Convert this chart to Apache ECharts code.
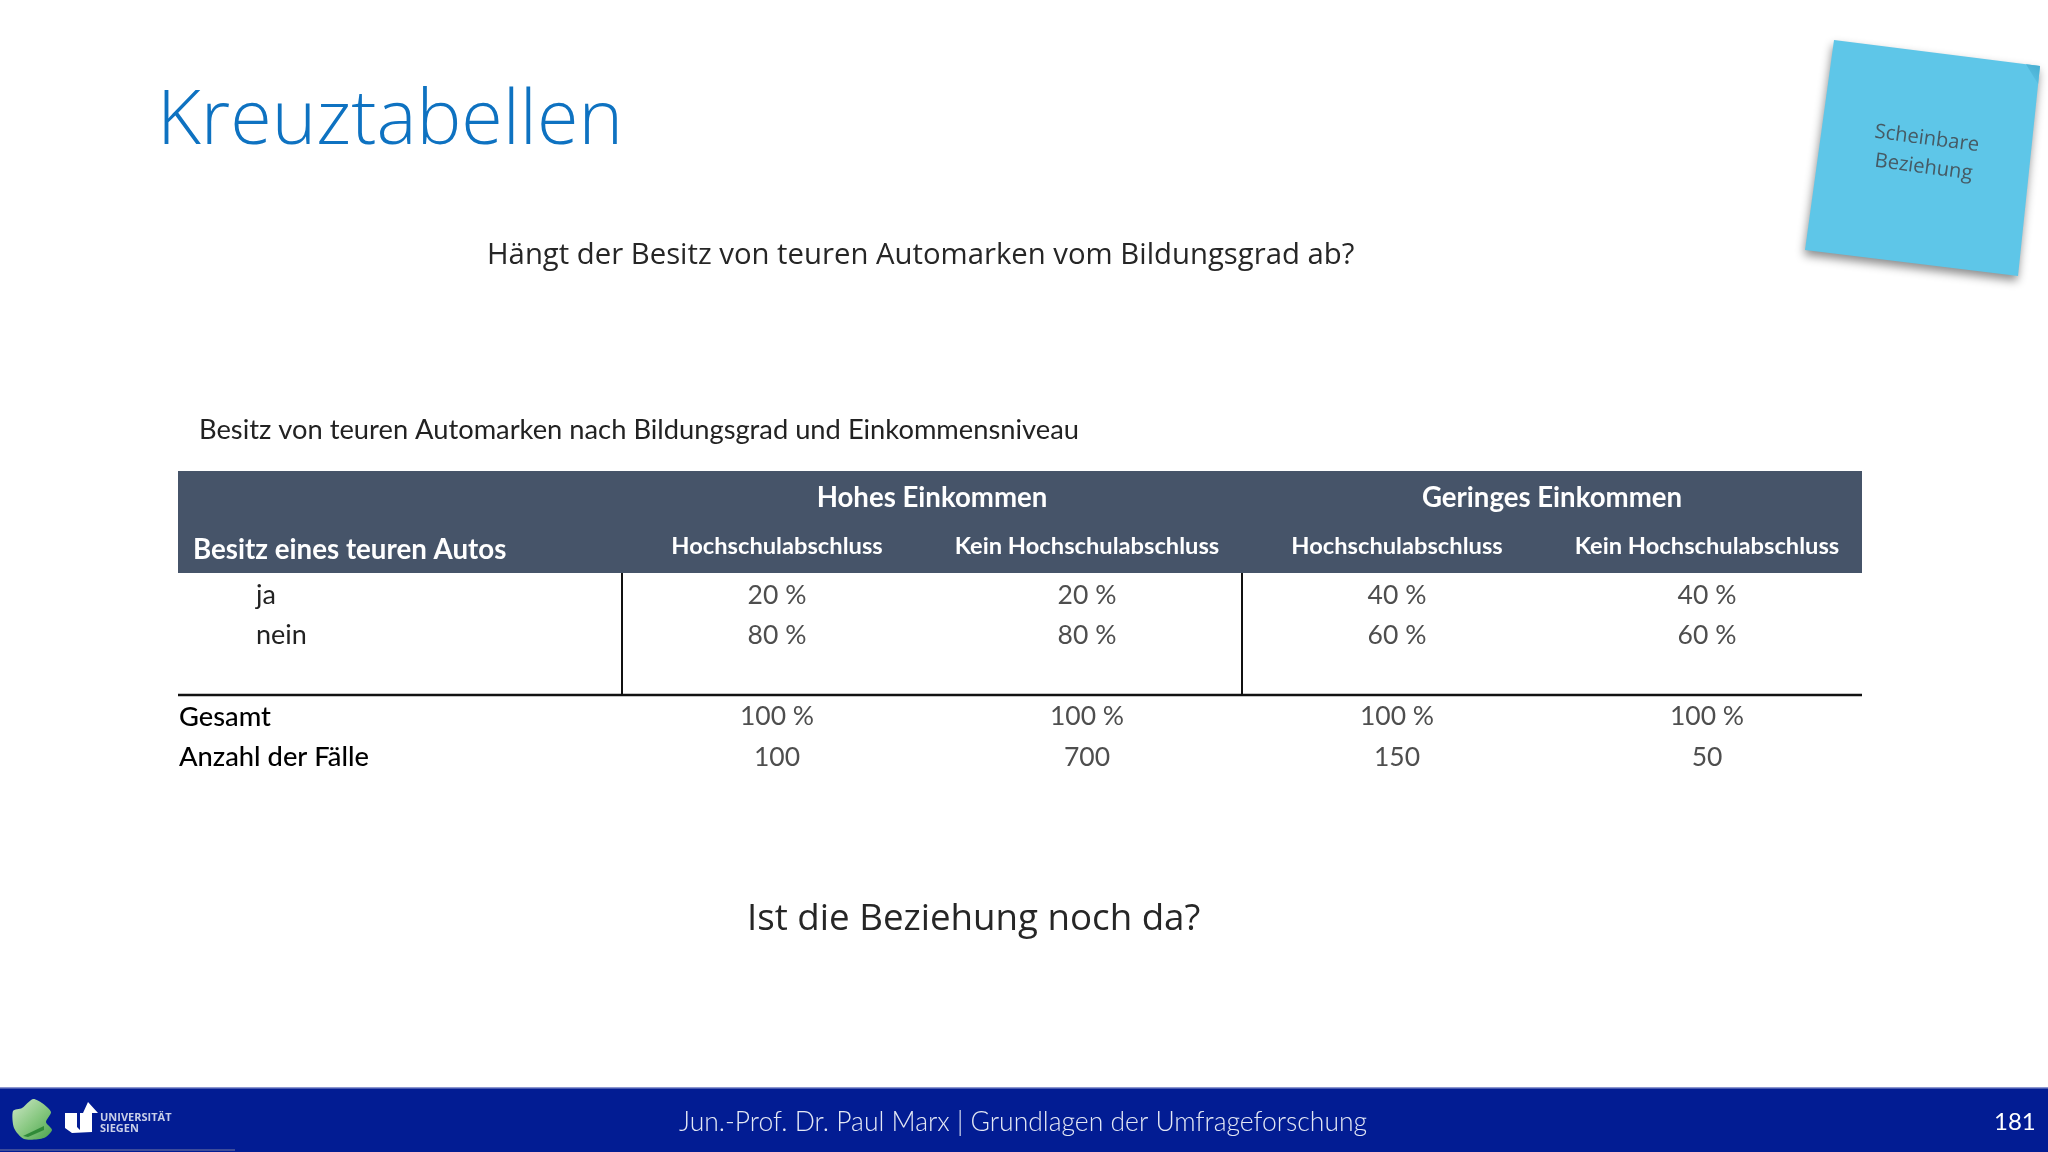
<!DOCTYPE html>
<html>
<head>
<meta charset="utf-8">
<title>Kreuztabellen</title>
<script src="https://cdn.jsdelivr.net/npm/echarts@6/dist/echarts.min.js"></script>
<style>
html,body{margin:0;padding:0;background:#fff}
#main{width:2048px;height:1152px}
</style>
</head>
<body>
<div id="main"></div>
<script>
// Spalten und Zeilen der Kreuztabelle
var incomeGroups = ['Hohes Einkommen', 'Geringes Einkommen'];
var columns = ['Hochschulabschluss', 'Kein Hochschulabschluss', 'Hochschulabschluss', 'Kein Hochschulabschluss'];
var rows = ['ja', 'nein', '', 'Gesamt', 'Anzahl der Fälle'];
var jaValues = [20, 20, 40, 40];
var neinValues = [80, 80, 60, 60];
var gesamtValues = [100, 100, 100, 100];
var faelleValues = [100, 700, 150, 50];

var BODY_FONT = 'Lato';
var HEAD_FONT = '"Open Sans"';
var HEADER_BG = '#465469';
var FOOTER_BG = '#021c93';

function cellData(rowIndex, values, unit) {
	return values.map(function (v, i) {
		return {value: [i, rowIndex], label: {formatter: v + unit}};
	});
}

var myChart = echarts.init(document.getElementById('main'));

var option = {
	animation: false,
	backgroundColor: '#fff',
	title: [
		{text: 'Kreuztabellen', left: 152, top: 79, textStyle: {fontFamily: HEAD_FONT, fontWeight: 300, fontSize: 75.5, color: '#0e72c1'}},
		{text: 'Hängt der Besitz von teuren Automarken vom Bildungsgrad ab?', left: 482, top: 236, textStyle: {fontFamily: HEAD_FONT, fontWeight: 400, fontSize: 29.3, color: '#262626'}},
		{text: 'Besitz von teuren Automarken nach Bildungsgrad und Einkommensniveau', left: 194, top: 412, textStyle: {fontFamily: BODY_FONT, fontWeight: 400, fontSize: 27.3, color: '#222'}},
		{text: 'Besitz eines teuren Autos', left: 188, top: 531, textStyle: {fontFamily: BODY_FONT, fontWeight: 700, fontSize: 27.7, color: '#fff'}},
		{text: 'Ist die Beziehung noch da?', left: 742, top: 896, textStyle: {fontFamily: HEAD_FONT, fontWeight: 400, fontSize: 36.7, color: '#262626'}},
		{text: 'Jun.-Prof. Dr. Paul Marx | Grundlagen der Umfrageforschung', left: 674, top: 1104, textStyle: {fontFamily: BODY_FONT, fontWeight: 300, fontSize: 26.5, color: '#e4e8f4'}},
		{text: '181', left: 1989, top: 1105, textStyle: {fontFamily: BODY_FONT, fontWeight: 400, fontSize: 24, color: '#fff'}}
	],
	grid: {left: 622, top: 574.7, width: 1240, height: 203, containLabel: false},
	xAxis: [
		{
			type: 'category', position: 'top', data: columns,
			axisLine: {show: false}, axisTick: {show: false}, splitLine: {show: false},
			axisLabel: {interval: 0, margin: 16, fontFamily: BODY_FONT, fontWeight: 700, fontSize: 23.7, color: '#fff'}
		},
		{
			type: 'category', position: 'top', data: incomeGroups,
			axisLine: {show: false}, axisTick: {show: false}, splitLine: {show: false},
			axisLabel: {interval: 0, margin: 63, fontFamily: BODY_FONT, fontWeight: 700, fontSize: 27.6, color: '#fff'}
		}
	],
	yAxis: {
		type: 'category', inverse: true, data: rows,
		axisLine: {show: false}, axisTick: {show: false}, splitLine: {show: false},
		axisLabel: {
			interval: 0, margin: 443, align: 'left',
			fontFamily: BODY_FONT, fontSize: 27,
			formatter: function (v, i) {
				return i < 2 ? '{sub|' + v + '}' : '{sum|' + v + '}';
			},
			rich: {
				sub: {padding: [0, 0, 0, 77], fontFamily: BODY_FONT, fontSize: 27, color: '#222'},
				sum: {fontFamily: BODY_FONT, fontWeight: 500, fontSize: 27.3, color: '#000'}
			}
		}
	},
	series: [{
		type: 'scatter',
		symbolSize: 1,
		silent: true,
		itemStyle: {color: 'transparent'},
		label: {show: true, position: 'inside', fontFamily: BODY_FONT, fontSize: 26.5, color: '#222'},
		data: [].concat(
			cellData(0, jaValues, ' %'),
			cellData(1, neinValues, ' %'),
			cellData(3, gesamtValues, ' %'),
			cellData(4, faelleValues, '')
		)
	}],
	graphic: [
		// Tabellenkopf
		{type: 'rect', z: -10, shape: {x: 178, y: 471, width: 1684, height: 102}, style: {fill: HEADER_BG}},
		// Linien
		{type: 'line', shape: {x1: 622, y1: 573, x2: 622, y2: 695}, style: {stroke: '#111', lineWidth: 2}},
		{type: 'line', shape: {x1: 1242, y1: 573, x2: 1242, y2: 695}, style: {stroke: '#111', lineWidth: 2}},
		{type: 'line', shape: {x1: 178, y1: 695, x2: 1862, y2: 695}, style: {stroke: '#111', lineWidth: 2.5}},
		// Notizzettel
		{type: 'polygon', z: 1, shape: {points: [[1834, 40], [2040, 66], [2018, 276], [1805, 250]]},
			style: {fill: '#5ec6e8', shadowBlur: 10, shadowOffsetX: -1, shadowOffsetY: 5, shadowColor: 'rgba(0,0,0,0.45)'}},
		{type: 'polygon', z: 2, shape: {points: [[2026, 64.2], [2040, 66], [2038, 84]]},
			style: {fill: new echarts.graphic.LinearGradient(1, 0, 0, 1, [{offset: 0, color: '#46accf'}, {offset: 1, color: '#5ec6e8'}])}},
		{type: 'text', z: 3, x: 1876, y: 122, rotation: -0.13,
			style: {text: 'Scheinbare', fill: '#465a64', font: '20.2px "Open Sans"'}},
		{type: 'text', z: 3, x: 1876, y: 151, rotation: -0.13,
			style: {text: 'Beziehung', fill: '#465a64', font: '20.2px "Open Sans"'}},
		// Fussleiste
		{type: 'rect', z: -10, shape: {x: 0, y: 1088, width: 2048, height: 64}, style: {fill: FOOTER_BG}},
		{type: 'rect', z: -9, shape: {x: 0, y: 1087, width: 2048, height: 1.5}, style: {fill: '#8d97cf'}},
		{type: 'rect', z: -9, shape: {x: 0, y: 1149, width: 235, height: 2}, style: {fill: '#3d4c9a'}},
		// Logos
		{type: 'polygon', z: 1, shape: {smooth: 0.25, points: [[13, 1111], [22, 1108], [33, 1099], [42, 1103], [51, 1112], [46, 1122], [52, 1130], [44, 1138], [24, 1139], [14, 1128]]},
			style: {fill: new echarts.graphic.LinearGradient(0, 0, 1, 1, [{offset: 0, color: '#cfe8c8'}, {offset: 0.55, color: '#86c77f'}, {offset: 1, color: '#4aa34e'}])}},
		{type: 'polygon', z: 2, shape: {points: [[23, 1136], [44, 1126], [44, 1130], [28, 1137]]}, style: {fill: '#2f8a38'}},
		{type: 'polygon', z: 1, shape: {points: [[65, 1113], [77, 1113], [77, 1127], [80, 1130], [80, 1113], [83, 1113], [88, 1102], [98, 1113], [92, 1113], [92, 1132], [72, 1133], [65, 1128]]},
			style: {fill: '#fff'}},
		{type: 'text', z: 1, x: 100, y: 1112, style: {text: 'UNIVERSITÄT\nSIEGEN', fill: '#c9cfe8', font: 'bold 11px "Open Sans"', lineHeight: 11}}
	]
};

myChart.setOption(option);
</script>
</body>
</html>
